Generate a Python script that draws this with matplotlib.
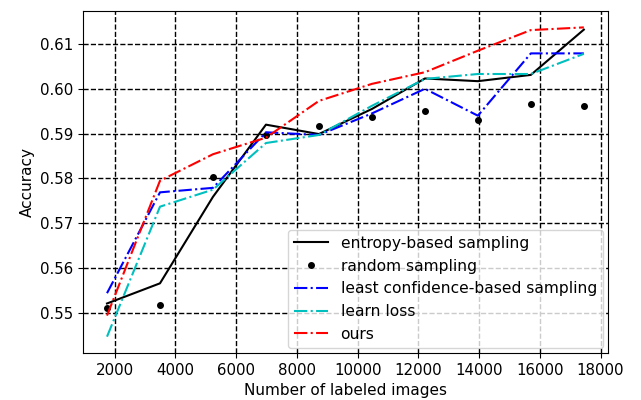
import matplotlib
matplotlib.use("Agg")
import matplotlib.pyplot as plt
from matplotlib.ticker import FormatStrFormatter

x = [1745, 3490, 5235, 6980, 8725, 10470, 12215, 13960, 15705, 17450]
entropy = [0.5521, 0.5566, 0.5759, 0.5920, 0.5899, 0.5955, 0.6023, 0.6017, 0.6031, 0.6132]
random_s = [0.5512, 0.5517, 0.5804, 0.5897, 0.5916, 0.5938, 0.5950, 0.5930, 0.5966, 0.5961]
least_conf = [0.5544, 0.5769, 0.5779, 0.5903, 0.5897, 0.5945, 0.6000, 0.5940, 0.6079, 0.6079]
learn_loss = [0.5447, 0.5737, 0.5775, 0.5879, 0.5897, 0.5962, 0.6022, 0.6033, 0.6033, 0.6078]
ours = [0.5494, 0.5795, 0.5854, 0.5891, 0.5973, 0.6011, 0.6037, 0.6085, 0.6131, 0.6137]

fig = plt.figure(figsize=(6.41, 4.0), dpi=100)
ax = fig.add_axes([0.130, 0.118, 0.818, 0.855])
ax.plot(x, entropy, 'k-', lw=1.5, label='entropy-based sampling')
ax.plot(x, random_s, 'k.', ms=8, label='random sampling')
ax.plot(x, least_conf, 'b-.', lw=1.5, label='least confidence-based sampling')
ax.plot(x, learn_loss, 'c-.', lw=1.5, label='learn loss')
ax.plot(x, ours, 'r-.', lw=1.5, label='ours')
ax.set_xlim(965, 18235)
ax.set_ylim(0.5411, 0.6174)
ax.set_xticks(range(2000, 18001, 2000))
ax.set_yticks([0.55, 0.56, 0.57, 0.58, 0.59, 0.60, 0.61])
ax.yaxis.set_major_formatter(FormatStrFormatter('%.2f'))
ax.grid(True, color='black', linestyle='--', lw=1.0)
ax.tick_params(labelsize=10.8)
ax.set_xlabel('Number of labeled images', fontsize=11)
ax.set_ylabel('Accuracy', fontsize=11)
ax.legend(loc='lower right', fontsize=11.2, handlelength=2.2, borderaxespad=0.3, labelspacing=0.5)
fig.savefig('out.png', dpi=100)
